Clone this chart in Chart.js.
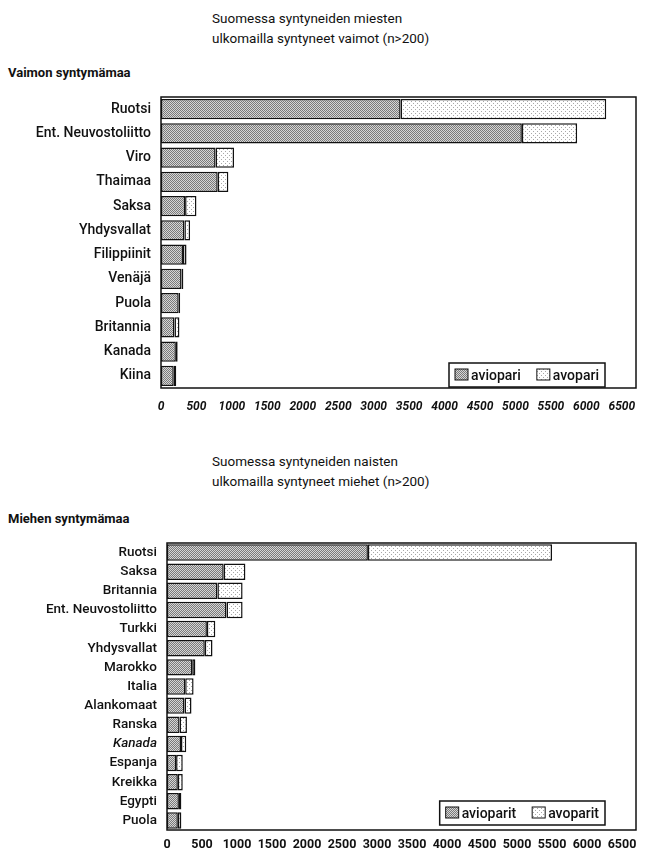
<!DOCTYPE html>
<html>
<head>
<meta charset="utf-8">
<script src="https://cdn.jsdelivr.net/npm/chart.js@4"></script>
<style>
  body { margin: 0; background: #fff; width: 645px; height: 853px; position: relative; overflow: hidden;
         font-family: Roboto, "Liberation Sans", sans-serif; color: #111; }
  .title { position: absolute; left: 212px; font-size: 13.5px; line-height: 20px; }
  .axisname { position: absolute; left: 8px; font-size: 13px; font-weight: bold; }
  .wrap { position: absolute; left: 0; width: 645px; }
</style>
</head>
<body>
<div class="title" style="top:8px">Suomessa syntyneiden miesten<br>ulkomailla syntyneet vaimot (n&gt;200)</div>
<div class="axisname" style="top:65px">Vaimon syntymämaa</div>
<div class="wrap" style="top:90px;height:330px"><canvas id="chart1"></canvas></div>

<div class="title" style="top:451px">Suomessa syntyneiden naisten<br>ulkomailla syntyneet miehet (n&gt;200)</div>
<div class="axisname" style="top:511px">Miehen syntymämaa</div>
<div class="wrap" style="top:535px;height:318px"><canvas id="chart2"></canvas></div>

<script>
// Data
const countries1 = ['Ruotsi', 'Ent. Neuvostoliitto', 'Viro', 'Thaimaa', 'Saksa', 'Yhdysvallat',
    'Filippiinit', 'Venäjä', 'Puola', 'Britannia', 'Kanada', 'Kiina'];
const aviopari1 = [3380, 5090, 770, 800, 340, 330, 310, 290, 250, 190, 210, 180];
const avopari1 = [2900, 780, 260, 150, 160, 80, 50, 25, 20, 70, 25, 35];
const seriesNames1 = ['aviopari', 'avopari'];

const countries2 = ['Ruotsi', 'Saksa', 'Britannia', 'Ent. Neuvostoliitto', 'Turkki', 'Yhdysvallat',
    'Marokko', 'Italia', 'Alankomaat', 'Ranska', 'Kanada', 'Espanja', 'Kreikka', 'Egypti', 'Puola'];
const aviopari2 = [2870, 810, 720, 850, 570, 540, 360, 260, 250, 180, 200, 130, 155, 170, 155];
const avopari2 = [2630, 310, 360, 230, 120, 110, 45, 120, 100, 105, 75, 95, 70, 35, 50];
const seriesNames2 = ['avioparit', 'avoparit'];

const tickValues = [0, 500, 1000, 1500, 2000, 2500, 3000, 3500, 4000, 4500, 5000, 5500, 6000, 6500];

const FONT = 'Roboto, "Liberation Sans", sans-serif';

// stippled fills like the printed chart
function makePattern(dark, light, size, dots) {
    const c = document.createElement('canvas');
    c.width = size; c.height = size;
    const g = c.getContext('2d');
    g.fillStyle = light;
    g.fillRect(0, 0, size, size);
    g.fillStyle = dark;
    dots.forEach(d => g.fillRect(d[0], d[1], 1, 1));
    return g.createPattern(c, 'repeat');
}
const avioFill = makePattern('#7a7a7a', '#d6d6d6', 2, [[0, 0], [1, 1]]);
const avoFill = makePattern('#a8a8a8', '#ffffff', 4, [[1, 1], [3, 3]]);

// frame around the plot area + legend box in the lower right corner
const framePlugin = {
    id: 'frameAndLegend',
    afterDatasetsDraw(chart) {
        const { ctx, chartArea: a } = chart;
        ctx.save();
        ctx.strokeStyle = '#111';
        ctx.lineWidth = 1.5;
        ctx.strokeRect(a.left, a.top, a.right - a.left, a.bottom - a.top);

        const opts = chart.options.plugins.frameAndLegend;
        ctx.font = '500 14px ' + FONT;
        const sw = 13, gap = 3, between = 16, padX = 6;
        const items = chart.data.datasets.map(ds => ({ text: ds.label, fill: ds.backgroundColor, w: ctx.measureText(ds.label).width }));
        let width = padX * 2 + items.reduce((s, it) => s + sw + gap + it.w, 0) + between * (items.length - 1);
        const h = 24;
        const right = a.right - opts.offsetRight;
        const bottom = a.bottom - opts.offsetBottom;
        const left = right - width;
        const top = bottom - h;
        ctx.fillStyle = '#fff';
        ctx.fillRect(left, top, width, h);
        ctx.strokeRect(left, top, width, h);
        let x = left + padX;
        items.forEach(it => {
            ctx.fillStyle = it.fill;
            ctx.fillRect(x, top + 6, sw, 11);
            ctx.lineWidth = 1;
            ctx.strokeRect(x, top + 6, sw, 11);
            x += sw + gap;
            ctx.fillStyle = '#111';
            ctx.textBaseline = 'middle';
            ctx.fillText(it.text, x, top + h / 2 + 1);
            x += it.w + between;
        });
        ctx.restore();
    }
};

function makeChart(id, labels, avio, avo, names, cfg) {
    return new Chart(document.getElementById(id), {
        type: 'bar',
        data: {
            labels: labels,
            datasets: [
                { label: names[0], data: avio, backgroundColor: avioFill, borderColor: '#111', borderWidth: 1.5, borderSkipped: false },
                { label: names[1], data: avo, backgroundColor: avoFill, borderColor: '#111', borderWidth: 1.5, borderSkipped: false }
            ]
        },
        options: {
            indexAxis: 'y',
            responsive: true,
            maintainAspectRatio: false,
            animation: false,
            barPercentage: cfg.barPct,
            categoryPercentage: 1,
            layout: { padding: { top: cfg.padTop, right: 9, bottom: cfg.padBottom, left: 0 } },
            scales: {
                x: {
                    stacked: true,
                    min: 0,
                    max: 6700,
                    grid: { display: false, drawTicks: false },
                    border: { display: false },
                    afterBuildTicks: (scale) => { scale.ticks = tickValues.map(v => ({ value: v })); },
                    afterFit: (scale) => { scale.height = cfg.axisH; scale.paddingLeft = 0; scale.paddingRight = 0; },
                    ticks: {
                        padding: cfg.tickPad,
                        color: '#111',
                        autoSkip: false,
                        maxRotation: 0,
                        callback: (v) => String(v),
                        font: { family: FONT, size: cfg.tickSize, style: cfg.tickStyle, weight: 'bold' }
                    }
                },
                y: {
                    stacked: true,
                    grid: { display: false, drawTicks: false },
                    border: { display: false },
                    afterFit: (scale) => { scale.width = cfg.left; scale.paddingTop = 0; scale.paddingBottom = 0; },
                    ticks: {
                        padding: 10,
                        color: '#111',
                        autoSkip: false,
                        font: (c) => ({ family: FONT, size: cfg.labelSize, weight: '500',
                            style: labels[c.index] === 'Kanada' && id === 'chart2' ? 'italic' : 'normal' })
                    }
                }
            },
            plugins: {
                legend: { display: false },
                tooltip: { enabled: false },
                frameAndLegend: { offsetRight: 31, offsetBottom: cfg.legendBottom }
            }
        },
        plugins: [framePlugin]
    });
}

makeChart('chart1', countries1, aviopari1, avopari1, seriesNames1,
    { left: 161, padTop: 7, padBottom: 2, axisH: 30, tickPad: 12, barPct: 0.84, labelSize: 14,
      legendBottom: 1, tickSize: 12, tickStyle: 'italic' });
makeChart('chart2', countries2, aviopari2, avopari2, seriesNames2,
    { left: 167, padTop: 8, padBottom: 3, axisH: 20, tickPad: 7, barPct: 0.86, labelSize: 13.5,
      legendBottom: 5, tickSize: 12.5, tickStyle: 'normal' });
</script>
</body>
</html>
